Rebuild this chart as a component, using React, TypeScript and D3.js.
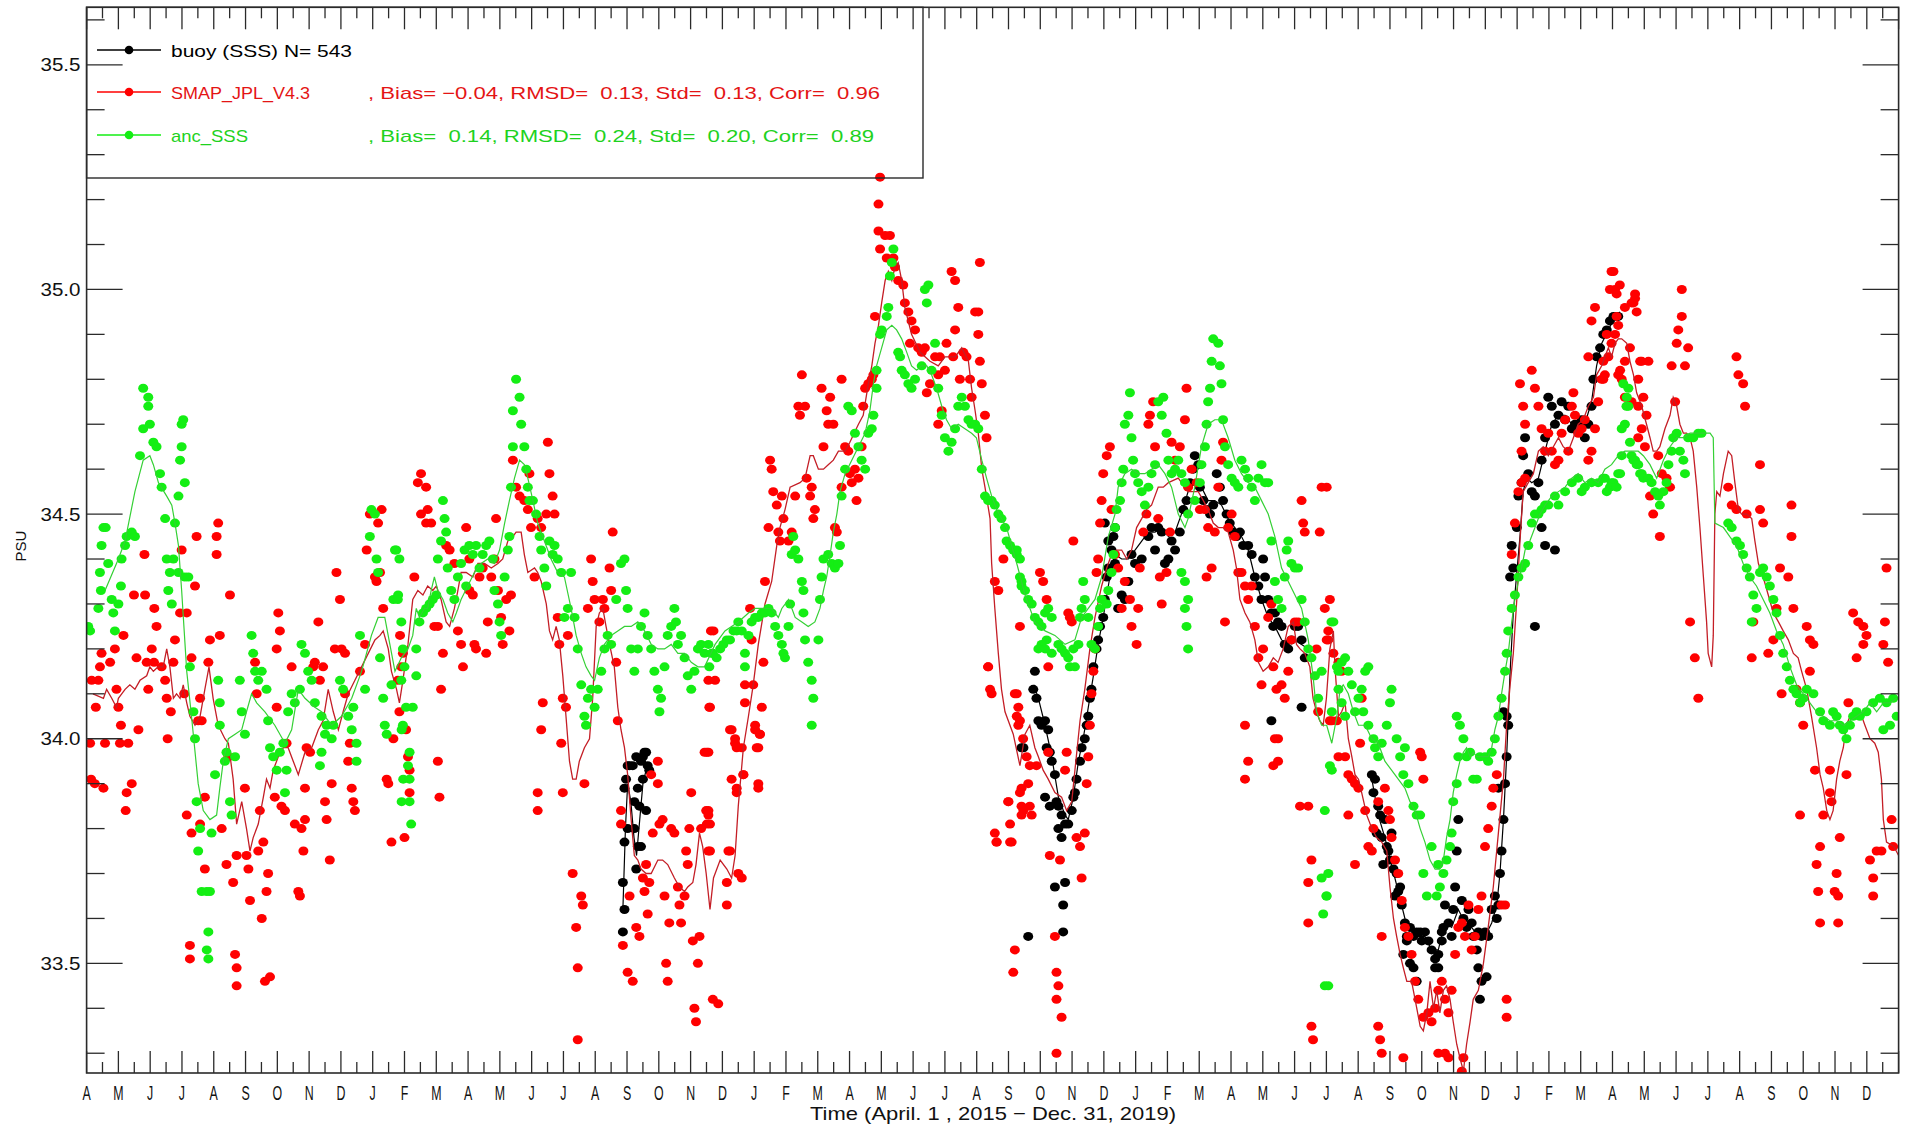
import React from "react";
import * as d3 from "d3";

type Pt = [number, number];

// time axis: months since April 1, 2015 (0) to Jan 1, 2020 (57)
const monthInitials = ["J", "F", "M", "A", "M", "J", "J", "A", "S", "O", "N", "D"];
const firstMonth = 3; // April
const monthCount = 57;
const monthLabels = d3.range(0, monthCount).map((i) => monthInitials[(i + firstMonth) % 12]);
const yMajorTicks = [33.5, 34.0, 34.5, 35.0, 35.5];
const yMinorTicks = d3.range(333, 357).map((v) => v / 10);
const xTitle = "Time (April. 1 , 2015 \u2212 Dec. 31, 2019)";
const yTitle = "PSU";
const legendBuoy = "buoy (SSS) N= 543";
const legendSmapName = "SMAP_JPL_V4.3";
const legendSmapStats = ", Bias= \u22120.04, RMSD=  0.13, Std=  0.13, Corr=  0.96";
const legendAncName = "anc_SSS";
const legendAncStats = ", Bias=  0.14, RMSD=  0.24, Std=  0.20, Corr=  0.89";

// SMAP smoothed line
const smapLine: Pt[] = [
[0.2,34.10],[0.53,34.09],[0.63,34.11],[0.79,34.09],[0.94,34.07],[1.0,34.09],[1.21,34.11],[1.36,34.12],[1.52,34.11],[1.68,34.13],[1.89,34.14],[1.99,34.16],[2.1,34.15],[2.25,34.16],[2.41,34.16],[2.52,34.20],[2.62,34.16],[2.73,34.09],[2.83,34.10],[2.94,34.09],[3.04,34.12],[3.15,34.08],[3.25,34.05],[3.41,34.03],[3.57,34.05],[3.72,34.11],[3.85,34.16],[3.98,34.09],[4.14,34.03],[4.35,34.0],[4.46,33.99],[4.61,33.91],[4.72,33.81],[4.88,33.86],[5.03,33.80],[5.14,33.75],[5.24,33.78],[5.40,33.81],[5.56,33.87],[5.66,33.91],[5.77,33.89],[5.87,33.93],[6.03,33.96],[6.19,33.98],[6.34,33.98],[6.50,33.95],[6.66,33.92],[6.87,33.97],[7.08,33.98],[7.29,34.02],[7.44,34.04],[7.60,34.11],[7.76,34.06],[7.92,34.02],[8.07,34.06],[8.23,34.10],[8.44,34.13],[8.65,34.16],[8.86,34.19],[9.07,34.22],[9.23,34.23],[9.33,34.24],[9.49,34.20],[9.59,34.15],[9.75,34.11],[9.84,34.08],[9.95,34.13],[10.11,34.21],[10.26,34.31],[10.42,34.33],[10.58,34.32],[10.73,34.34],[10.89,34.33],[11.0,34.34],[11.15,34.31],[11.31,34.26],[11.42,34.25],[11.57,34.29],[11.68,34.33],[11.78,34.37],[11.94,34.37],[12.15,34.36],[12.31,34.39],[12.52,34.39],[12.73,34.38],[12.94,34.39],[13.09,34.40],[13.25,34.44],[13.41,34.45],[13.51,34.46],[13.67,34.46],[13.77,34.41],[13.88,34.37],[14.09,34.38],[14.19,34.37],[14.30,34.35],[14.46,34.30],[14.56,34.24],[14.66,34.22],[14.77,34.25],[14.87,34.22],[14.98,34.14],[15.08,34.05],[15.19,33.95],[15.29,33.91],[15.40,33.91],[15.50,33.95],[15.66,33.98],[15.82,34.0],[15.92,34.09],[16.03,34.25],[16.13,34.28],[16.24,34.29],[16.34,34.25],[16.45,34.21],[16.60,34.16],[16.71,34.07],[16.81,34.02],[16.92,33.98],[17.02,33.92],[17.13,33.82],[17.23,33.74],[17.34,33.73],[17.44,33.71],[17.60,33.70],[17.76,33.70],[17.97,33.73],[18.12,33.73],[18.28,33.72],[18.49,33.69],[18.65,33.67],[18.81,33.66],[18.91,33.67],[19.07,33.68],[19.17,33.72],[19.28,33.79],[19.38,33.76],[19.49,33.70],[19.61,33.62],[19.72,33.69],[19.93,33.73],[20.14,33.71],[20.29,33.69],[20.40,33.74],[20.50,33.85],[20.66,33.98],[20.82,34.05],[20.97,34.12],[21.13,34.21],[21.34,34.30],[21.55,34.35],[21.71,34.43],[21.81,34.47],[21.97,34.51],[22.13,34.56],[22.44,34.57],[22.60,34.58],[22.76,34.63],[22.86,34.63],[23.02,34.60],[23.18,34.60],[23.33,34.61],[23.49,34.62],[23.65,34.64],[23.86,34.64],[24.01,34.66],[24.28,34.70],[24.43,34.72],[24.59,34.79],[24.70,34.83],[24.80,34.88],[24.91,34.92],[25.01,34.97],[25.12,35.02],[25.22,35.04],[25.33,35.02],[25.43,35.05],[25.53,35.06],[25.64,35.02],[25.74,34.96],[25.95,34.90],[26.22,34.86],[26.53,34.84],[26.79,34.83],[27.0,34.85],[27.32,34.85],[27.53,34.87],[27.74,34.84],[27.84,34.78],[27.95,34.73],[28.05,34.68],[28.16,34.60],[28.26,34.56],[28.42,34.49],[28.47,34.39],[28.57,34.29],[28.68,34.19],[28.78,34.11],[28.89,34.06],[29.15,34.01],[29.36,33.94],[29.52,34.01],[29.67,34.03],[29.83,33.98],[29.94,33.96],[30.09,33.93],[30.25,33.91],[30.46,33.88],[30.67,33.87],[30.83,33.84],[30.99,33.86],[31.09,33.93],[31.25,34.04],[31.40,34.11],[31.56,34.20],[31.72,34.27],[31.93,34.34],[32.09,34.38],[32.24,34.41],[32.40,34.42],[32.56,34.42],[32.72,34.40],[32.87,34.42],[33.03,34.47],[33.19,34.49],[33.34,34.51],[33.50,34.52],[33.71,34.56],[33.87,34.56],[34.03,34.57],[34.34,34.58],[34.65,34.55],[34.97,34.55],[35.13,34.53],[35.28,34.51],[35.44,34.48],[35.60,34.47],[35.75,34.47],[35.91,34.46],[36.07,34.42],[36.17,34.38],[36.28,34.31],[36.44,34.28],[36.59,34.26],[36.75,34.22],[36.86,34.17],[37.01,34.15],[37.17,34.16],[37.33,34.18],[37.48,34.17],[37.64,34.20],[37.80,34.25],[37.96,34.26],[38.06,34.21],[38.17,34.20],[38.32,34.19],[38.48,34.16],[38.58,34.09],[38.69,34.06],[38.79,34.04],[38.90,34.03],[39.0,34.09],[39.11,34.20],[39.22,34.24],[39.27,34.16],[39.38,34.05],[39.48,34.06],[39.59,34.08],[39.69,34.0],[39.80,33.96],[39.90,33.92],[40.01,33.91],[40.11,33.88],[40.27,33.83],[40.43,33.80],[40.58,33.78],[40.74,33.77],[40.90,33.75],[41.0,33.67],[41.11,33.60],[41.21,33.56],[41.32,33.52],[41.42,33.49],[41.53,33.46],[41.68,33.46],[41.79,33.42],[41.95,33.36],[42.05,33.35],[42.16,33.39],[42.26,33.46],[42.37,33.40],[42.47,33.44],[42.57,33.39],[42.68,33.44],[42.78,33.45],[42.89,33.42],[42.99,33.37],[43.10,33.32],[43.20,33.29],[43.31,33.26],[43.41,33.32],[43.52,33.37],[43.62,33.42],[43.78,33.44],[43.94,33.50],[44.09,33.58],[44.25,33.67],[44.41,33.79],[44.57,33.91],[44.67,34.03],[44.78,34.12],[44.88,34.19],[44.99,34.31],[45.09,34.44],[45.19,34.55],[45.35,34.57],[45.51,34.59],[45.67,34.64],[45.82,34.65],[45.98,34.63],[46.14,34.65],[46.30,34.67],[46.45,34.65],[46.61,34.64],[46.77,34.67],[46.92,34.70],[47.08,34.71],[47.24,34.74],[47.40,34.76],[47.50,34.81],[47.66,34.83],[47.76,34.85],[47.87,34.87],[47.97,34.85],[48.08,34.88],[48.18,34.89],[48.29,34.89],[48.45,34.88],[48.55,34.84],[48.66,34.81],[48.76,34.77],[48.92,34.74],[49.07,34.70],[49.18,34.67],[49.28,34.64],[49.39,34.64],[49.49,34.65],[49.65,34.69],[49.81,34.72],[49.91,34.76],[50.02,34.74],[50.12,34.70],[50.23,34.68],[50.33,34.68],[50.44,34.67],[50.54,34.64],[50.65,34.56],[50.75,34.47],[50.86,34.36],[50.96,34.26],[51.01,34.19],[51.12,34.16],[51.17,34.23],[51.22,34.50],[51.28,34.55],[51.38,34.54],[51.49,34.59],[51.64,34.64],[51.75,34.63],[51.85,34.57],[51.96,34.51],[52.06,34.50],[52.22,34.50],[52.38,34.49],[52.48,34.44],[52.59,34.39],[52.74,34.36],[52.90,34.32],[53.06,34.28],[53.22,34.26],[53.37,34.24],[53.53,34.22],[53.69,34.19],[53.84,34.18],[53.95,34.15],[54.11,34.11],[54.26,34.05],[54.42,33.98],[54.53,33.92],[54.63,33.89],[54.74,33.84],[54.84,33.82],[54.94,33.84],[55.05,33.91],[55.15,33.95],[55.26,33.98],[55.36,34.03],[55.47,34.05],[55.57,34.06],[55.73,34.06],[55.84,34.05],[55.94,34.03],[56.10,34.0],[56.25,33.99],[56.36,33.97],[56.46,33.91],[56.52,33.82],[56.62,33.77],[56.85,33.76],[57.0,33.74]
];

// anc_SSS smoothed line
const ancLine: Pt[] = [
[0.58,34.33],[1.0,34.40],[1.21,34.44],[1.52,34.55],[1.78,34.62],[1.99,34.63],[2.1,34.61],[2.26,34.57],[2.52,34.54],[2.68,34.52],[2.78,34.48],[2.89,34.43],[2.99,34.33],[3.15,34.15],[3.30,34.05],[3.51,33.90],[3.67,33.84],[3.88,33.82],[4.09,33.83],[4.19,33.89],[4.30,33.95],[4.46,34.0],[4.67,34.01],[4.88,34.02],[5.03,34.06],[5.19,34.10],[5.35,34.08],[5.61,34.06],[5.92,34.03],[6.24,33.99],[6.45,34.02],[6.66,34.11],[6.87,34.09],[7.18,34.07],[7.39,34.06],[7.71,34.03],[8.02,34.05],[8.34,34.09],[8.65,34.15],[8.96,34.23],[9.17,34.27],[9.38,34.27],[9.54,34.21],[9.70,34.15],[9.90,34.18],[10.11,34.20],[10.26,34.23],[10.37,34.29],[10.47,34.27],[10.63,34.29],[10.73,34.29],[10.84,34.33],[10.94,34.36],[11.05,34.33],[11.21,34.31],[11.36,34.28],[11.52,34.26],[11.63,34.28],[11.78,34.31],[11.99,34.34],[12.2,34.37],[12.41,34.39],[12.62,34.40],[12.83,34.39],[12.99,34.42],[13.15,34.48],[13.30,34.53],[13.46,34.58],[13.62,34.62],[13.77,34.61],[13.88,34.58],[14.04,34.53],[14.19,34.48],[14.40,34.44],[14.61,34.40],[14.82,34.37],[15.03,34.36],[15.24,34.29],[15.40,34.23],[15.56,34.19],[15.71,34.16],[15.87,34.14],[15.98,34.13],[16.13,34.18],[16.29,34.21],[16.50,34.23],[16.71,34.24],[16.92,34.25],[17.13,34.25],[17.34,34.26],[17.55,34.24],[17.76,34.21],[17.97,34.20],[18.18,34.20],[18.39,34.21],[18.60,34.19],[18.81,34.19],[19.02,34.17],[19.23,34.16],[19.44,34.16],[19.77,34.21],[20.08,34.24],[20.50,34.26],[20.82,34.28],[21.03,34.29],[21.24,34.29],[21.55,34.29],[21.76,34.27],[21.87,34.29],[22.08,34.31],[22.29,34.27],[22.50,34.26],[22.70,34.25],[22.91,34.26],[23.07,34.29],[23.18,34.33],[23.28,34.36],[23.39,34.41],[23.49,34.46],[23.60,34.50],[23.70,34.55],[23.86,34.59],[24.07,34.62],[24.28,34.65],[24.49,34.68],[24.64,34.73],[24.75,34.79],[24.85,34.83],[25.01,34.87],[25.17,34.91],[25.33,34.92],[25.48,34.91],[25.64,34.89],[25.80,34.86],[25.95,34.83],[26.11,34.82],[26.27,34.83],[26.43,34.83],[26.58,34.81],[26.74,34.78],[26.90,34.74],[27.05,34.71],[27.21,34.69],[27.42,34.70],[27.63,34.69],[27.84,34.68],[27.99,34.67],[28.16,34.62],[28.31,34.58],[28.47,34.54],[28.63,34.51],[28.78,34.49],[28.94,34.47],[29.10,34.43],[29.26,34.39],[29.41,34.35],[29.52,34.32],[29.83,34.26],[30.15,34.24],[30.46,34.23],[30.78,34.21],[31.09,34.22],[31.30,34.27],[31.51,34.29],[31.72,34.31],[31.93,34.36],[32.14,34.45],[32.35,34.50],[32.45,34.56],[32.66,34.59],[32.87,34.60],[33.08,34.59],[33.29,34.59],[33.50,34.60],[33.71,34.61],[33.92,34.59],[34.13,34.56],[34.34,34.50],[34.55,34.47],[34.65,34.49],[34.86,34.56],[35.07,34.65],[35.28,34.70],[35.49,34.71],[35.70,34.71],[35.91,34.67],[36.12,34.62],[36.33,34.59],[36.54,34.57],[36.75,34.56],[36.96,34.53],[37.17,34.50],[37.38,34.45],[37.59,34.38],[37.80,34.35],[38.01,34.32],[38.22,34.29],[38.43,34.22],[38.58,34.14],[38.69,34.06],[38.85,34.03],[39.01,34.03],[39.17,33.99],[39.33,34.05],[39.43,34.11],[39.53,34.12],[39.69,34.10],[39.85,34.06],[40.01,34.03],[40.22,34.03],[40.43,34.0],[40.63,33.99],[40.84,33.95],[41.05,33.93],[41.26,33.91],[41.47,33.89],[41.63,33.86],[41.79,33.84],[41.95,33.80],[42.10,33.77],[42.26,33.73],[42.42,33.71],[42.57,33.71],[42.68,33.73],[42.78,33.78],[42.89,33.82],[42.99,33.88],[43.10,33.92],[43.20,33.95],[43.31,33.97],[43.41,33.98],[43.52,33.96],[43.62,33.97],[43.73,33.96],[43.94,33.96],[44.09,33.96],[44.20,33.98],[44.30,34.02],[44.41,34.05],[44.51,34.10],[44.62,34.15],[44.72,34.19],[44.83,34.26],[44.93,34.31],[45.04,34.35],[45.14,34.38],[45.25,34.42],[45.40,34.44],[45.56,34.47],[45.72,34.50],[45.88,34.52],[46.09,34.54],[46.30,34.55],[46.51,34.56],[46.72,34.58],[46.92,34.59],[47.13,34.57],[47.34,34.58],[47.55,34.57],[47.76,34.60],[47.97,34.61],[48.18,34.63],[48.39,34.64],[48.60,34.64],[48.81,34.64],[48.97,34.63],[49.18,34.61],[49.39,34.58],[49.60,34.62],[49.81,34.65],[50.02,34.67],[50.23,34.67],[50.44,34.68],[50.65,34.68],[50.86,34.68],[51.07,34.68],[51.17,34.67],[51.22,34.48],[51.49,34.47],[51.69,34.45],[51.90,34.43],[52.11,34.39],[52.32,34.36],[52.53,34.34],[52.74,34.31],[52.95,34.28],[53.16,34.24],[53.37,34.21],[53.58,34.16],[53.79,34.12],[54.0,34.10],[54.21,34.08],[54.42,34.06],[54.63,34.05],[54.84,34.04],[55.05,34.04],[55.26,34.03],[55.47,34.04],[55.68,34.05],[55.89,34.06],[56.10,34.08],[56.31,34.06],[56.52,34.08],[56.73,34.08],[56.94,34.09]
];

// buoy smoothed line (three deployments)
const buoyLine: Pt[] = [
[16.87,33.62],[16.95,33.80],[17.02,33.90],[17.12,33.86],[17.22,33.78],[17.30,33.74],[17.40,33.82],[17.50,33.90],[17.60,33.93],[17.70,33.93],
[29.80,34.12],[29.94,34.09],[30.15,34.03],[30.36,33.96],[30.57,33.87],[30.78,33.83],[30.88,33.82],[31.04,33.87],[31.20,33.95],[31.35,34.0],[31.51,34.07],[31.67,34.14],[31.82,34.21],[31.98,34.27],[32.14,34.34],[32.24,34.38],[32.35,34.41],[32.56,34.40],[32.77,34.40],[32.98,34.42],[33.19,34.44],[33.40,34.46],[33.61,34.46],[33.82,34.47],[34.03,34.45],[34.24,34.46],[34.44,34.50],[34.65,34.55],[34.86,34.57],[35.07,34.56],[35.28,34.53],[35.49,34.53],[35.70,34.52],[35.91,34.49],[36.12,34.47],[36.33,34.45],[36.54,34.42],[36.75,34.36],[36.96,34.31],[37.17,34.27],[37.38,34.25],[37.59,34.22],[37.80,34.21],[38.01,34.22],[38.22,34.21],[38.43,34.20],
[40.43,33.91],[40.63,33.83],[40.84,33.78],[41.05,33.72],[41.26,33.66],[41.47,33.60],[41.68,33.57],[41.89,33.56],[42.10,33.56],[42.31,33.53],[42.52,33.53],[42.73,33.59],[42.94,33.58],[43.15,33.62],[43.36,33.59],[43.57,33.58],[43.78,33.56],[43.99,33.56],[44.20,33.59],[44.36,33.63],[44.46,33.70],[44.57,33.82],[44.67,33.96],[44.78,34.15],[44.88,34.28],[44.99,34.37],[45.09,34.45],[45.19,34.55],[45.30,34.58],[45.46,34.57],[45.67,34.58],[45.88,34.64],[46.09,34.70],[46.30,34.72],[46.51,34.72],[46.72,34.70],[46.92,34.70],[47.13,34.70],[47.34,34.75],[47.50,34.83],[47.66,34.88],[47.87,34.91],[48.08,34.94],[48.23,34.95]
];

// buoy (SSS) daily points
const buoyDots: Pt[] = [
[16.92,33.89],[16.97,33.91],[17.02,33.94],[17.08,33.94],[17.18,33.94],[17.29,33.96],[17.44,33.95],[17.50,33.96],[17.55,33.97],[17.60,33.97],[17.65,33.94],[17.70,33.93],[17.50,33.91],[17.34,33.89],[17.23,33.86],[17.39,33.85],[17.60,33.84],[17.02,33.80],[17.23,33.80],[17.34,33.76],[17.44,33.76],[16.92,33.77],[17.29,33.71],[16.87,33.68],[16.92,33.62],[16.87,33.57],
[29.41,33.98],[29.47,33.98],[29.83,34.15],[29.78,34.11],[29.88,34.09],[29.94,34.04],[30.04,34.03],[30.15,34.04],[30.25,34.02],[30.20,33.98],[30.30,33.97],[30.36,33.95],[30.46,33.92],[30.51,33.86],[30.57,33.85],[30.67,33.83],[30.78,33.81],[30.88,33.81],[30.99,33.84],[31.04,33.87],[31.09,33.88],[31.14,33.91],[31.25,33.95],[31.30,33.98],[31.40,34.0],[31.46,34.03],[31.51,34.05],[31.56,34.09],[31.61,34.11],[31.67,34.16],[31.77,34.20],[31.82,34.22],[31.88,34.25],[31.98,34.27],[32.03,34.31],[32.09,34.36],[32.14,34.38],[32.24,34.42],[32.30,34.45],[32.35,34.47],[29.62,33.56],[30.46,33.67],[30.72,33.63],[30.78,33.68],[30.72,33.57],[30.67,33.78],[30.57,33.80],[30.30,33.85],[30.15,33.87],[32.03,34.48],[32.14,34.44],[32.35,34.39],[32.45,34.29],[32.56,34.32],[32.66,34.31],[32.77,34.35],[32.87,34.41],[32.98,34.39],[33.19,34.40],[33.40,34.45],[33.50,34.47],[33.61,34.42],[33.71,34.47],[33.82,34.46],[33.92,34.39],[34.03,34.40],[34.13,34.44],[34.24,34.42],[34.39,34.46],[34.50,34.51],[34.60,34.53],[34.71,34.57],[34.81,34.60],[34.86,34.63],[34.97,34.61],[35.02,34.56],[35.13,34.53],[35.23,34.51],[35.34,34.50],[35.44,34.52],[35.55,34.59],[35.65,34.56],[35.75,34.53],[35.86,34.50],[35.96,34.48],[36.07,34.46],[36.17,34.45],[36.28,34.46],[36.38,34.43],[36.54,34.43],[36.65,34.41],[36.75,34.36],[36.86,34.34],[36.96,34.31],[37.01,34.40],[37.07,34.36],[37.17,34.31],[37.27,34.28],[37.33,34.25],[37.38,34.28],[37.48,34.26],[37.59,34.25],[37.69,34.21],[37.80,34.20],[37.90,34.22],[38.01,34.25],[38.11,34.25],[38.22,34.22],[38.32,34.18],[38.22,34.07],[37.27,34.04],
[40.43,33.92],[40.53,33.91],[40.48,33.88],[40.63,33.85],[40.69,33.83],[40.58,33.79],[40.74,33.78],[40.84,33.82],[40.90,33.76],[41.0,33.73],[41.05,33.79],[41.11,33.71],[41.21,33.70],[41.26,33.66],[41.37,33.63],[41.47,33.59],[41.53,33.56],[41.63,33.58],[41.74,33.56],[41.84,33.57],[41.95,33.57],[42.0,33.55],[42.10,33.57],[42.21,33.55],[42.31,33.53],[42.42,33.51],[42.52,33.52],[42.63,33.55],[42.68,33.58],[42.73,33.63],[42.84,33.59],[42.94,33.56],[42.99,33.62],[43.05,33.67],[43.15,33.82],[43.10,33.75],[43.26,33.64],[43.31,33.60],[43.41,33.58],[43.47,33.62],[43.57,33.59],[43.62,33.56],[43.73,33.53],[43.78,33.57],[43.88,33.56],[43.99,33.57],[44.09,33.56],[44.20,33.62],[44.30,33.65],[44.36,33.60],[44.41,33.63],[44.46,33.70],[44.51,33.75],[44.57,33.82],[44.62,33.90],[44.67,33.96],[44.72,34.03],[44.67,34.05],[44.57,34.06],[44.41,33.89],[41.63,33.50],[41.74,33.49],[41.84,33.46],[41.42,33.52],[41.53,33.55],[42.42,33.49],[42.52,33.49],[42.63,33.57],[43.78,33.49],[43.83,33.42],[43.88,33.46],[44.04,33.47],[41.32,33.67],[41.16,33.65],[40.95,33.75],[40.79,33.72],
[44.78,34.36],[44.88,34.38],[44.83,34.43],[44.99,34.47],[45.04,34.54],[45.14,34.57],[45.19,34.63],[45.25,34.67],[45.35,34.59],[45.46,34.55],[45.56,34.54],[45.67,34.57],[45.77,34.62],[45.88,34.67],[45.98,34.76],[46.09,34.74],[46.19,34.70],[46.30,34.72],[46.40,34.75],[46.51,34.71],[46.61,34.74],[46.72,34.69],[46.82,34.70],[46.92,34.69],[47.03,34.71],[47.13,34.67],[47.24,34.70],[47.34,34.74],[47.40,34.80],[47.50,34.85],[47.61,34.87],[47.71,34.90],[47.82,34.91],[47.92,34.93],[48.03,34.94],[48.13,34.94],[48.18,34.94],[46.19,34.42],[45.56,34.25],[45.77,34.47],[45.88,34.43]
];

// SMAP_JPL_V4.3 points
const smapDots: Pt[] = [
[0.11,33.99],[0.14,33.91],[0.26,33.90],[0.53,33.89],[0.16,34.13],[0.42,34.16],[0.37,34.13],[0.47,34.19],[0.74,34.17],[0.29,34.07],[0.58,33.99],[0.94,34.11],[1.0,34.07],[1.05,33.99],[1.08,34.03],[1.16,34.23],[0.89,34.20],[1.26,33.88],[1.42,33.90],[1.23,33.84],[1.31,33.99],[1.49,34.32],[1.57,34.18],[1.63,34.02],[1.84,34.32],[1.82,34.41],[1.89,34.17],[1.94,34.11],[2.05,34.20],[2.13,34.29],[2.20,34.25],[2.12,34.17],[2.36,34.16],[2.47,34.13],[2.52,34.09],[2.55,34.0],[2.65,34.06],[2.78,34.22],[2.73,34.17],[2.94,34.28],[2.99,34.42],[3.07,34.10],[3.15,34.28],[3.30,34.18],[3.46,34.45],[3.41,34.34],[3.57,34.09],[3.62,34.04],[3.83,34.17],[3.88,34.22],[4.09,34.41],[4.14,34.48],[4.09,34.45],[4.19,34.23],[3.15,33.83],[3.30,33.79],[3.25,33.54],[3.25,33.51],[3.57,33.81],[3.72,33.87],[3.51,34.04],[3.72,33.71],[4.25,33.80],[4.40,33.72],[4.46,33.96],[4.61,33.68],[4.72,33.74],[4.67,33.52],[4.72,33.49],[4.72,33.45],[4.51,34.32],[4.98,33.89],[5.03,33.74],[5.09,33.71],[5.14,33.64],[5.35,34.10],[5.30,34.17],[5.40,33.75],[5.45,33.84],[5.51,33.60],[5.56,33.77],[5.61,33.46],[5.77,33.47],[5.66,33.66],[5.71,33.70],[5.92,33.87],[5.98,34.07],[6.03,34.28],[6.08,34.24],[5.98,34.20],[6.13,33.85],[6.24,33.84],[6.29,33.99],[6.45,34.16],[6.55,33.81],[6.66,33.66],[6.71,33.65],[6.76,33.80],[6.82,33.75],[6.87,33.89],[6.87,33.82],[6.92,33.98],[7.03,33.97],[7.13,34.16],[7.18,34.17],[7.29,34.26],[7.34,34.13],[7.44,34.16],[7.50,33.86],[7.55,33.82],[7.65,33.73],[7.71,33.90],[7.81,34.20],[7.86,34.37],[7.97,34.31],[8.02,34.20],[8.13,34.19],[8.13,34.10],[8.28,33.99],[8.34,33.89],[8.39,33.86],[8.44,33.84],[8.23,33.95],[8.60,34.15],[8.76,34.21],[8.81,34.42],[8.91,34.50],[9.07,34.36],[9.12,34.35],[9.17,34.48],[9.28,34.51],[9.23,34.37],[9.33,34.29],[9.44,33.91],[9.49,33.90],[9.59,33.77],[9.65,34.0],[9.86,34.23],
[9.79,34.13],[9.84,34.06],[9.95,34.19],[9.90,34.16],[10.05,34.02],[10.11,33.96],[10.16,33.93],[10.16,33.88],[10.0,33.78],[10.31,34.36],[10.52,34.59],[10.42,34.57],[10.68,34.56],[10.73,34.51],[10.52,34.50],[10.68,34.48],[10.84,34.48],[10.94,34.25],[11.05,34.25],[11.21,34.19],[11.15,34.11],[11.05,33.95],[11.10,33.87],[11.31,34.43],[11.42,34.42],[11.57,34.39],[11.68,34.24],[11.78,34.21],[11.84,34.16],[11.94,34.47],[12.04,34.40],[12.04,34.33],[12.15,34.32],[12.20,34.21],[12.25,34.20],[12.36,34.36],[12.46,34.38],[12.57,34.19],[12.62,34.26],[12.73,34.36],[12.83,34.40],[12.88,34.49],[12.94,34.33],[13.04,34.27],[13.09,34.21],[13.20,34.31],[13.30,34.24],[13.35,34.32],[13.41,34.62],[13.51,34.56],[13.62,34.54],[13.77,34.53],[13.88,34.51],[13.93,34.59],[13.98,34.47],[14.19,34.49],[14.30,34.47],[14.09,34.36],[14.35,34.08],[14.30,34.02],[14.19,33.88],[14.19,33.84],[14.46,34.50],[14.51,34.66],[14.56,34.59],[14.66,34.54],[14.72,34.50],[14.82,34.27],[14.87,34.21],[14.98,34.09],[15.08,34.07],[14.93,33.99],[14.98,33.88],[15.14,34.23],[15.29,33.70],[15.40,33.58],[15.45,33.49],[15.45,33.33],[15.56,33.65],[15.61,33.63],[15.66,33.90],[15.77,34.29],[15.87,34.40],[15.92,34.35],[15.98,34.31],[16.13,34.26],[16.24,34.31],[16.29,34.29],[16.45,34.38],[16.50,34.33],[16.55,34.46],[16.66,34.17],[16.71,34.04],[16.81,33.84],[16.81,33.81],[16.87,33.54],[17.02,33.48],[17.08,33.65],[17.18,33.46],[17.29,33.58],[17.39,33.56],[17.50,33.69],[17.55,33.66],[17.60,33.72],[17.65,33.61],[17.70,33.68],[17.76,33.92],[17.81,33.79],[17.97,33.90],[17.97,33.95],[18.02,33.81],[18.12,33.82],[18.18,33.65],[18.23,33.50],[18.28,33.46],[18.33,33.59],[18.39,33.80],[18.49,33.79],[18.60,33.67],[18.65,33.63],[18.70,33.59],[18.81,33.65],[18.86,33.75],[18.91,33.72],[18.96,33.80],[19.02,33.88],[19.07,33.55],[19.12,33.40],[19.17,33.37],[19.23,33.50],[19.28,33.56],[19.33,33.80],[19.44,33.97],[19.49,33.84],[19.59,34.07],[19.64,34.24],[19.70,33.42],
[19.72,34.24],[19.56,34.13],[19.61,34.07],[19.77,34.13],[19.56,33.97],[19.56,33.84],[19.61,33.81],[19.56,33.75],[20.19,33.75],[20.24,34.02],[20.40,33.99],[20.45,33.89],[20.61,33.98],[20.66,33.92],[20.71,34.08],[20.71,34.12],[20.87,34.29],[20.92,34.22],[20.97,34.12],[21.03,34.03],[21.08,33.98],[21.13,33.90],[21.18,34.01],[21.29,34.17],[21.24,34.07],[21.34,34.35],[21.45,34.47],[21.50,34.62],[21.55,34.60],[21.60,34.55],[21.71,34.52],[21.76,34.46],[21.81,34.44],[21.87,34.54],[21.92,34.49],[22.08,34.44],[22.18,34.46],[22.29,34.54],[22.39,34.74],[22.44,34.72],[22.50,34.81],[22.60,34.74],[22.65,34.58],[22.76,34.54],[22.81,34.56],[22.86,34.49],[22.91,34.51],[23.12,34.78],[23.18,34.65],[23.28,34.73],[23.33,34.70],[23.39,34.76],[23.49,34.70],[23.54,34.47],[23.60,34.46],[23.75,34.80],[23.75,34.56],[23.86,34.65],[23.96,34.64],[24.01,34.59],[24.07,34.57],[24.17,34.60],[24.22,34.53],[24.28,34.58],[24.38,34.65],[24.43,34.74],[24.49,34.78],[24.59,34.79],[24.70,34.80],[24.75,34.81],[24.80,34.94],[24.91,35.13],[24.91,35.19],[24.96,35.25],[24.96,35.09],[25.12,35.12],[25.17,35.07],[25.27,35.12],[25.38,35.07],[25.43,35.05],[25.53,35.02],[25.69,35.01],[25.74,34.97],[25.85,34.95],[25.95,34.93],[25.90,34.88],[26.06,34.91],[26.16,34.87],[26.27,34.86],[26.37,34.87],[26.43,34.77],[26.53,34.79],[26.69,34.85],[26.79,34.81],[26.84,34.85],[26.90,34.73],[26.79,34.70],[27.0,34.82],[27.05,34.88],[27.21,35.04],[27.32,35.02],[27.42,34.96],[27.26,34.85],[27.32,34.91],[27.47,34.80],[27.58,34.86],[27.68,34.85],[27.79,34.80],[27.84,34.76],[27.95,34.95],[28.05,34.95],[28.10,35.06],[28.05,34.90],[28.10,34.84],[28.16,34.79],[28.26,34.72],[28.31,34.67],[28.36,34.16],[28.42,34.11],[28.57,34.35],[28.68,34.33],[28.84,34.40],[29.20,34.10],[29.26,34.05],[29.31,34.03],[29.36,34.25],[29.36,33.88],[29.41,33.83],[28.99,33.86],[29.05,33.81],[28.57,33.79],[28.62,33.77],[29.05,33.77],
[20.29,34.02],[20.40,34.0],[20.45,33.98],[21.03,34.02],[21.18,34.01],[21.13,33.98],[19.51,33.97],[20.29,33.91],[20.66,33.92],[20.45,33.88],[21.13,33.89],[19.56,33.83],[19.51,33.81],[19.61,33.75],[20.24,33.75],[20.14,33.68],[20.50,33.70],[20.61,33.69],[20.14,33.63],[19.87,33.41],[28.36,34.16],[28.47,34.10],[29.26,34.10],[29.31,34.07],[29.0,33.86],[28.63,33.77],[29.10,33.77],[29.20,33.53],[29.15,33.48],[29.41,33.89],[29.47,33.84],
[29.36,34.04],[29.46,34.0],[29.57,33.96],[29.67,33.94],[29.62,33.90],[29.41,33.85],[29.67,33.85],[29.73,33.83],[29.88,33.94],[29.99,34.37],[30.09,34.35],[30.20,34.31],[30.25,34.16],[30.25,33.97],[30.30,33.74],[30.46,33.56],[30.51,33.48],[30.57,33.45],[30.51,33.42],[30.67,33.38],[30.51,33.30],[30.62,33.73],[30.78,33.93],[30.83,33.97],[30.88,34.28],[30.93,34.27],[30.99,34.26],[31.04,34.44],[31.14,33.78],[31.25,33.76],[31.30,33.69],[31.40,33.79],[31.46,33.90],[31.51,33.96],[31.56,34.03],[31.61,34.10],[31.67,34.15],[31.72,34.20],[31.77,34.37],[31.82,34.40],[31.88,34.48],[31.93,34.53],[31.98,34.59],[32.09,34.63],[32.19,34.65],[32.24,34.51],[32.35,34.41],[32.45,34.38],[32.56,34.29],[32.66,34.35],[32.82,34.31],[32.87,34.25],[33.03,34.21],[33.08,34.29],[33.13,34.38],[33.24,34.46],[33.34,34.50],[33.40,34.70],[33.45,34.72],[33.55,34.75],[33.61,34.65],[33.71,34.49],[33.76,34.36],[33.82,34.30],[33.97,34.37],[34.08,34.46],[34.13,34.66],[34.24,34.62],[34.39,34.65],[34.55,34.71],[34.60,34.78],[34.65,34.56],[34.76,34.60],[34.92,34.57],[35.02,34.51],[35.18,34.51],[35.28,34.47],[35.23,34.36],[35.39,34.38],[35.49,34.46],[35.60,34.56],[35.70,34.62],[35.75,34.66],[35.81,34.26],[35.91,34.47],[36.02,34.50],[36.12,34.45],[36.23,34.37],[36.33,34.37],[36.44,34.34],[36.54,34.31],[36.65,34.34],[36.75,34.25],[36.86,34.18],[36.96,34.12],[37.01,34.20],[37.17,34.27],[37.27,34.30],[37.33,34.16],[37.43,34.11],[37.48,34.0],[37.59,34.12],[37.69,34.09],[37.80,34.15],[37.90,34.22],[38.01,34.26],[38.11,34.26],[38.22,34.53],[38.27,34.48],[38.32,34.46],[38.43,33.85],[38.53,33.73],[38.43,33.68],[38.43,33.59],[38.53,33.36],[38.58,33.33],[38.69,34.20],[38.74,34.06],[38.79,34.46],[38.85,34.56],[38.95,34.29],[39.06,34.22],[39.11,34.04],[36.44,34.03],[36.54,33.95],[36.44,33.91],[37.38,34.0],[37.33,33.94],[37.48,33.95],[38.17,33.85],
[39.01,34.56],[39.11,34.31],[39.06,34.24],[39.01,34.22],[39.22,34.19],[39.38,34.17],[39.48,34.15],[39.17,34.04],[39.33,34.04],[39.38,33.96],[39.59,33.96],[39.69,33.92],[39.80,33.91],[39.90,33.90],[40.01,33.89],[40.06,33.99],[40.11,34.09],[40.22,33.84],[40.32,33.76],[40.43,33.75],[39.90,33.72],[39.69,33.83],[40.48,33.80],[40.63,33.86],[40.84,33.89],[40.95,33.84],[41.0,33.82],[41.05,33.78],[41.16,33.73],[41.26,33.70],[41.37,33.64],[41.47,33.58],[41.58,33.56],[41.68,33.52],[41.79,33.46],[41.89,33.42],[42.05,33.38],[42.21,33.39],[42.31,33.37],[42.42,33.40],[42.52,33.44],[42.63,33.46],[42.73,33.42],[42.84,33.39],[42.94,33.44],[43.05,33.52],[43.15,33.58],[43.26,33.59],[43.36,33.56],[43.47,33.63],[43.57,33.53],[43.67,33.56],[43.78,33.62],[43.88,33.65],[43.99,33.76],[44.09,33.80],[44.20,33.85],[44.25,33.89],[44.36,33.92],[44.51,33.63],[44.62,33.63],[44.67,33.42],[44.67,33.38],[40.74,33.56],[40.63,33.36],[40.69,33.33],[40.74,33.30],[41.42,33.29],[42.52,33.30],[42.73,33.30],[42.84,33.29],[43.31,33.29],[43.26,33.26],[41.95,33.97],[42.0,33.96],[42.05,33.91],
[44.83,34.41],[44.93,34.48],[45.04,34.55],[45.14,34.57],[45.25,34.58],[45.14,34.64],[45.25,34.70],[45.19,34.74],[45.09,34.79],[45.46,34.82],[45.56,34.78],[45.67,34.74],[45.77,34.69],[45.88,34.64],[45.98,34.68],[46.09,34.64],[46.19,34.61],[46.30,34.62],[46.40,34.68],[46.51,34.71],[46.61,34.64],[46.72,34.74],[46.77,34.77],[46.82,34.72],[46.92,34.68],[47.03,34.69],[47.13,34.71],[47.24,34.62],[47.34,34.64],[47.45,34.69],[47.55,34.75],[47.66,34.80],[47.24,34.85],[47.34,34.93],[47.45,34.96],[47.76,34.81],[47.87,34.85],[47.97,34.88],[48.08,34.90],[47.97,35.04],[48.08,35.0],[48.13,34.99],[48.23,35.01],[48.39,34.96],[48.60,34.97],[48.71,34.98],[48.76,34.95],[48.81,34.80],[48.92,34.84],[48.18,34.81],[48.29,34.80],[48.39,34.76],[48.60,34.75],[48.81,34.74],[48.92,34.69],[49.02,34.65],
[48.03,35.04],[47.92,35.0],[48.71,34.99],[48.66,34.97],[48.13,34.94],[48.18,34.92],[47.82,34.90],[47.71,34.84],[47.71,34.80],[48.55,34.87],[48.39,34.84],[48.24,34.82],[48.87,34.84],[49.13,34.84],[48.97,34.76],[49.07,34.72],[48.81,34.67],[49.18,34.54],[49.28,34.50],[49.49,34.45],[49.44,34.63],[49.55,34.59],[49.70,34.58],[49.81,34.56],[50.18,35.0],[50.18,34.94],[50.07,34.91],[50.02,34.88],[50.38,34.87],[50.28,34.83],[49.86,34.83],[49.97,34.75],[50.44,34.26],[50.59,34.18],[50.70,34.09],[51.90,34.85],[51.96,34.81],[52.11,34.79],[52.17,34.74],[52.64,34.61],[51.64,34.56],[51.75,34.52],[51.90,34.51],[52.22,34.50],[52.64,34.51],[52.74,34.48],[53.27,34.38],[53.53,34.36],[53.63,34.52],[53.63,34.45],[53.16,34.29],[53.06,34.22],[52.90,34.19],[52.43,34.26],[52.38,34.18],[53.32,34.10],[53.69,34.29],[53.79,34.11],[53.90,34.08],[54.0,34.03],[54.11,34.25],[54.21,34.22],[54.32,34.21],[54.21,34.15],[54.37,33.93],[54.42,33.72],[54.53,33.76],[54.47,33.66],[54.53,33.59],[54.63,33.83],[54.84,33.93],[54.84,33.88],[54.89,33.86],[54.99,33.66],[55.10,33.65],[55.05,33.70],[55.10,33.59],[55.15,33.78],[53.90,33.83],[55.36,33.92],[55.42,34.08],[55.57,34.28],[55.73,34.26],[55.89,34.25],[55.99,34.23],[55.89,34.21],[55.68,34.18],[56.10,33.73],[56.20,33.69],[56.20,33.65],[56.31,33.75],[56.46,33.75],[56.52,34.21],[56.57,34.26],[56.62,34.38],[56.67,34.17],[56.78,33.82],[56.83,33.76]
];

// anc_SSS points
const ancDots: Pt[] = [
[0.11,34.24],[0.05,34.25],[0.42,34.37],[0.53,34.47],[0.60,34.47],[0.47,34.43],[0.68,34.39],[0.45,34.33],[0.79,34.31],[0.84,34.28],[0.89,34.24],[0.37,34.29],[1.0,34.30],[1.08,34.34],[1.10,34.40],[1.21,34.43],[1.26,34.45],[1.42,34.46],[1.52,34.45],[1.68,34.63],[1.78,34.78],[1.94,34.76],[1.94,34.74],[1.99,34.70],[1.78,34.69],[2.10,34.66],[2.20,34.65],[2.31,34.59],[2.36,34.56],[2.47,34.49],[2.52,34.40],[2.62,34.37],[2.57,34.33],[2.73,34.40],[2.68,34.30],[2.78,34.48],[2.89,34.54],[2.94,34.62],[2.99,34.70],[3.04,34.71],[2.99,34.65],[3.09,34.57],[2.89,34.37],[3.09,34.36],[3.20,34.36],[3.25,34.16],[3.36,34.06],[3.41,34.0],[3.46,33.86],[3.57,33.80],[3.51,33.75],[3.62,33.66],[3.78,33.66],[3.88,33.66],[3.83,33.57],[3.78,33.53],[3.83,33.51],[3.93,33.79],[4.04,33.92],[4.14,34.13],[4.19,34.08],[4.19,34.03],[4.35,33.95],[4.40,33.97],[4.51,33.86],[4.56,33.83],[4.67,33.96],[4.82,34.13],[4.88,34.06],[4.98,34.01],[5.19,34.23],[5.24,34.19],[5.30,34.15],[5.40,34.13],[5.51,34.15],[5.66,34.11],[5.71,34.04],[5.77,33.98],[5.87,33.96],[5.98,33.93],[6.08,33.97],[6.19,33.99],[6.24,33.88],[6.29,33.93],[6.34,34.06],[6.45,34.10],[6.55,34.08],[6.71,34.11],[6.76,34.21],[6.87,34.19],[6.97,34.15],[7.08,34.13],[7.18,34.08],[7.39,34.05],[7.50,34.01],[7.39,33.97],[7.34,33.94],[7.55,34.03],[7.71,34.0],[7.76,34.03],[7.97,34.13],[8.07,34.11],[8.23,34.05],[8.34,34.02],[8.39,34.07],[8.49,33.99],[8.49,33.95],[8.60,34.23],[8.76,34.11],[8.91,34.45],[8.96,34.51],[9.07,34.50],[9.12,34.40],[9.17,34.37],[9.23,34.18],[9.33,34.09],[9.38,34.03],[9.44,34.01],[9.59,34.12],[9.65,34.31],[9.70,34.42],[9.80,34.32],[9.91,34.02],[9.96,33.91],[9.91,33.86],
[9.74,34.42],[9.84,34.40],[9.79,34.31],[9.90,34.26],[9.95,34.20],[9.90,34.13],[10.0,34.16],[10.05,34.07],[9.95,34.03],[10.16,33.97],[10.11,33.94],[10.16,33.91],[10.16,33.86],[10.21,33.81],[10.26,34.07],[10.37,34.14],[10.37,34.20],[10.47,34.26],[10.58,34.28],[10.68,34.29],[10.79,34.30],[10.89,34.31],[11.0,34.32],[11.05,34.40],[11.15,34.44],[11.21,34.53],[11.26,34.49],[11.31,34.46],[11.36,34.38],[11.47,34.33],[11.57,34.31],[11.68,34.36],[11.78,34.39],[11.89,34.42],[11.94,34.34],[12.04,34.43],[12.15,34.41],[12.25,34.43],[12.36,34.38],[12.46,34.41],[12.57,34.43],[12.67,34.44],[12.78,34.40],[12.83,34.33],[12.94,34.30],[12.99,34.26],[13.04,34.23],[13.15,34.36],[13.25,34.42],[13.30,34.45],[13.35,34.56],[13.41,34.73],[13.51,34.80],[13.62,34.76],[13.41,34.65],[13.67,34.70],[13.77,34.65],[13.83,34.60],[13.88,34.56],[13.93,34.53],[14.04,34.53],[14.14,34.50],[14.25,34.45],[14.30,34.42],[14.40,34.38],[14.46,34.34],[14.56,34.44],[14.66,34.41],[14.72,34.43],[14.82,34.40],[14.93,34.37],[15.03,34.27],[15.14,34.29],[15.24,34.37],[15.35,34.27],[15.45,34.20],[15.56,34.12],[15.66,34.05],[15.71,34.03],[15.77,34.09],[15.87,34.11],[15.98,34.07],[16.08,34.11],[16.19,34.15],[16.29,34.20],[16.39,34.23],[16.50,34.21],[16.66,34.31],[16.81,34.39],[16.92,34.40],[16.97,34.33],[17.02,34.29],[17.13,34.20],[17.23,34.15],[17.34,34.20],[17.44,34.25],[17.55,34.28],[17.65,34.23],[17.76,34.20],[17.86,34.15],[17.97,34.11],[18.02,34.06],[18.07,34.09],[18.18,34.16],[18.28,34.23],[18.39,34.25],[18.49,34.29],[18.54,34.26],[18.60,34.21],[18.70,34.23],[18.81,34.18],[18.91,34.14],[19.02,34.11],[19.12,34.15],[19.23,34.20],[19.33,34.21],[19.44,34.19],[19.59,34.16],[19.70,34.19],
[19.56,34.21],[19.66,34.19],[19.82,34.18],[19.93,34.20],[20.03,34.21],[20.14,34.22],[20.24,34.22],[20.35,34.24],[20.50,34.26],[20.45,34.24],[20.61,34.24],[20.71,34.19],[20.71,34.16],[20.82,34.23],[20.92,34.26],[21.03,34.27],[21.13,34.27],[21.24,34.28],[21.34,34.28],[21.45,34.29],[21.55,34.28],[21.66,34.25],[21.76,34.23],[21.87,34.21],[21.92,34.19],[21.97,34.18],[22.08,34.25],[22.13,34.30],[22.18,34.41],[22.23,34.45],[22.29,34.42],[22.39,34.40],[22.50,34.35],[22.55,34.33],[22.55,34.28],[22.60,34.22],[22.70,34.17],[22.81,34.13],[22.86,34.09],[22.81,34.03],[23.02,34.22],[23.07,34.31],[23.12,34.36],[23.18,34.40],[23.33,34.41],[23.44,34.39],[23.54,34.38],[23.65,34.39],[23.70,34.43],[23.75,34.54],[23.86,34.60],[23.96,34.74],[24.07,34.73],[24.17,34.68],[24.28,34.65],[24.38,34.62],[24.49,34.60],[24.59,34.68],[24.70,34.69],[24.75,34.72],[24.85,34.78],[24.85,34.82],[24.96,34.90],[25.01,34.91],[25.17,34.94],[25.22,34.96],[25.27,35.03],[25.33,35.06],[25.38,35.09],[25.53,34.86],[25.59,34.85],[25.64,34.82],[25.74,34.81],[25.85,34.79],[25.95,34.78],[26.06,34.80],[26.27,34.83],[26.37,35.0],[26.43,34.97],[26.48,35.01],[26.58,34.82],[26.69,34.88],[26.79,34.78],[26.90,34.72],[27.0,34.67],[27.11,34.64],[27.21,34.66],[27.32,34.69],[27.42,34.74],[27.53,34.76],[27.63,34.74],[27.74,34.71],[27.84,34.70],[27.95,34.70],[28.05,34.69],[28.16,34.60],[28.26,34.54],[28.36,34.53],[28.47,34.53],[28.57,34.52],[28.68,34.50],[28.78,34.49],[28.89,34.47],[28.94,34.44],[29.05,34.43],[29.15,34.42],[29.26,34.41],[29.36,34.36],[29.41,34.34],
[29.26,34.42],[29.36,34.40],[29.41,34.35],[29.52,34.33],[29.62,34.31],[29.73,34.30],[29.83,34.27],[29.94,34.26],[30.04,34.25],[30.15,34.28],[30.25,34.29],[30.36,34.27],[30.20,34.22],[30.04,34.21],[29.94,34.20],[30.15,34.20],[30.36,34.19],[30.57,34.21],[30.67,34.20],[30.78,34.19],[30.88,34.18],[30.93,34.16],[31.09,34.16],[31.04,34.20],[31.20,34.21],[31.25,34.27],[31.30,34.29],[31.40,34.31],[31.35,34.35],[31.51,34.27],[31.61,34.21],[31.72,34.20],[31.82,34.25],[31.88,34.29],[31.93,34.31],[32.09,34.30],[32.14,34.33],[32.24,34.37],[32.30,34.41],[32.35,34.47],[32.40,34.51],[32.51,34.53],[32.56,34.57],[32.61,34.60],[32.66,34.70],[32.77,34.72],[32.82,34.77],[32.87,34.67],[32.92,34.62],[32.98,34.59],[33.08,34.57],[33.19,34.55],[33.29,34.52],[33.40,34.56],[33.50,34.59],[33.61,34.61],[33.71,34.75],[33.82,34.72],[33.87,34.76],[33.97,34.68],[34.03,34.62],[34.13,34.59],[34.24,34.60],[34.34,34.62],[34.44,34.59],[34.55,34.57],[34.65,34.50],[34.86,34.53],[35.02,34.57],[35.07,34.61],[35.18,34.65],[35.23,34.70],[35.28,34.75],[35.34,34.78],[35.39,34.84],[35.44,34.89],[35.60,34.88],[35.65,34.83],[35.70,34.79],[35.75,34.71],[35.81,34.65],[35.91,34.61],[36.02,34.58],[36.12,34.57],[36.23,34.56],[36.33,34.62],[36.44,34.60],[36.54,34.58],[36.65,34.56],[36.75,34.53],[36.86,34.58],[36.96,34.61],[37.07,34.57],[37.17,34.57],[37.27,34.44],[37.38,34.35],[37.48,34.31],[37.59,34.29],[37.69,34.36],[37.75,34.42],[37.80,34.44],[37.90,34.39],[38.01,34.38],[38.11,34.38],[38.22,34.31],[38.32,34.26],[38.43,34.20],[38.53,34.18],[38.64,34.14],[38.74,34.09],[38.85,34.15],[38.95,33.84],[38.85,33.69],[39.0,33.65],[38.90,33.61],[38.95,33.45],[39.11,33.94],[39.16,34.26],[34.44,34.37],[34.55,34.35],[34.65,34.31],[34.55,34.29],[34.60,34.25],[34.65,34.20],
[39.06,33.70],[39.01,33.65],[39.06,33.45],[39.17,34.06],[39.17,33.93],[39.22,34.26],[39.33,34.16],[39.38,34.15],[39.48,34.17],[39.59,34.18],[39.69,34.15],[39.38,34.11],[39.48,34.08],[39.59,34.05],[39.80,34.12],[39.90,34.06],[40.01,34.09],[40.11,34.11],[40.22,34.15],[40.32,34.16],[40.16,34.06],[40.32,34.03],[40.48,34.0],[40.53,33.98],[40.63,33.96],[40.74,33.99],[40.90,34.03],[41.0,34.08],[41.05,34.11],[41.21,34.0],[41.32,33.96],[41.42,33.92],[41.47,33.98],[41.58,33.90],[41.74,33.85],[41.84,33.83],[41.95,33.83],[42.05,33.70],[42.16,33.65],[42.31,33.76],[42.47,33.65],[42.57,33.67],[42.52,33.72],[42.68,33.70],[42.78,33.73],[42.89,33.76],[42.94,33.79],[42.99,33.86],[43.10,33.90],[43.15,33.96],[43.10,34.05],[43.20,34.03],[43.31,34.0],[43.41,33.96],[43.52,33.97],[43.62,33.91],[43.73,33.91],[43.83,33.96],[43.99,33.96],[44.09,33.95],[44.20,33.97],[44.30,34.0],[44.41,34.05],[44.51,34.09],[44.62,34.15],[44.67,34.19],[44.72,34.24],[44.83,34.29],[44.93,34.32],[45.04,34.36],[45.14,34.38],[45.25,34.39],[45.35,34.43],[45.46,34.48],[45.56,34.50],[45.67,34.50],[45.77,34.51],[45.88,34.52],[45.98,34.52],[46.19,34.54],[46.30,34.52],[46.51,34.55],[46.72,34.57],[46.92,34.58],[47.03,34.55],[47.13,34.56],[47.34,34.57],[47.55,34.57],[47.76,34.58],[47.97,34.57],[48.18,34.59],[48.29,34.63],[48.39,34.70],[48.44,34.74],[48.50,34.78],[48.60,34.63],[48.71,34.62],[48.81,34.61],[48.92,34.59],
[48.34,34.79],[48.45,34.76],[48.50,34.74],[48.29,34.69],[48.55,34.66],[48.24,34.59],[48.03,34.57],[47.92,34.56],[47.82,34.55],[47.71,34.58],[48.13,34.56],[48.66,34.62],[48.76,34.61],[48.87,34.59],[48.97,34.58],[49.13,34.58],[49.23,34.57],[49.34,34.55],[49.44,34.54],[49.49,34.52],[49.60,34.55],[49.70,34.57],[49.76,34.61],[49.86,34.64],[49.91,34.67],[50.02,34.68],[50.12,34.64],[50.23,34.62],[50.28,34.59],[50.38,34.67],[50.54,34.67],[50.70,34.68],[50.80,34.68],[51.64,34.48],[51.75,34.47],[51.90,34.44],[52.01,34.43],[52.11,34.41],[52.22,34.38],[52.32,34.36],[52.43,34.32],[52.53,34.29],[52.38,34.26],[52.64,34.37],[52.74,34.38],[52.85,34.36],[52.95,34.34],[53.06,34.31],[53.16,34.28],[53.27,34.23],[53.37,34.19],[53.48,34.16],[53.58,34.13],[53.69,34.11],[53.79,34.10],[53.90,34.08],[54.0,34.09],[54.11,34.11],[54.32,34.10],[54.53,34.06],[54.63,34.04],[54.84,34.03],[54.94,34.06],[55.05,34.05],[55.15,34.03],[55.26,34.02],[55.36,34.0],[55.47,34.03],[55.57,34.05],[55.68,34.06],[55.78,34.05],[55.99,34.06],[56.20,34.08],[56.41,34.09],[56.62,34.08],[56.83,34.09],[56.52,34.02],[56.73,34.03],[56.94,34.05]
];

const RED = "#ff0000";
const RED_LINE = "#c41e26";
const GREEN = "#14ee14";
const GREEN_LINE = "#35d035";
const BLACK = "#000000";
const AXIS = "#2a2a2a";

function splitSegments(pts: Pt[], gap: number): Pt[][] {
  const out: Pt[][] = [];
  let cur: Pt[] = [];
  pts.forEach((p, i) => {
    if (i > 0 && p[0] - pts[i - 1][0] > gap) {
      out.push(cur);
      cur = [];
    }
    cur.push(p);
  });
  if (cur.length) out.push(cur);
  return out;
}

export default function App() {
  const W = 1912;
  const H = 1136;
  const left = 86.6, right = 1898.6, top = 7.3, bottom = 1073;
  const x = d3.scaleLinear().domain([0, monthCount]).range([left, right]);
  const y = d3.scaleLinear().domain([33.256, 35.628]).range([bottom, top]);
  const line = d3.line<Pt>().x((d) => x(d[0])).y((d) => y(d[1]));
  const rx = 5.0;
  const ry = 4.5;
  const font = "'Liberation Sans', Arial, Helvetica, sans-serif";

  const xMajor = d3.range(0, monthCount + 1);
  const xMinor = d3.range(0, monthCount).map((i) => i + 0.5);
  const isMajorY = (v: number) => Math.abs(v * 2 - Math.round(v * 2)) < 1e-6;

  const legendRows = [
    { yy: 50, color: BLACK, lineColor: BLACK, name: legendBuoy, nameLen: 181, stats: null as string | null, statsLen: 0 },
    { yy: 92, color: "#e41414", lineColor: RED, name: legendSmapName, nameLen: 139, stats: legendSmapStats, statsLen: 512 },
    { yy: 135, color: "#1ed21e", lineColor: GREEN, name: legendAncName, nameLen: 77, stats: legendAncStats, statsLen: 506 },
  ];

  return (
    <svg width={W} height={H} viewBox={`0 0 ${W} ${H}`} style={{ position: "absolute", left: 0, top: 0, background: "#fff" }}>
      <defs>
        <clipPath id="plotClip">
          <rect x={left} y={top} width={right - left} height={bottom - top} />
        </clipPath>
      </defs>
      <rect x={0} y={0} width={W} height={H} fill="#fff" />
      <g clipPath="url(#plotClip)">
        {buoyDots.map((d, i) => (
          <ellipse key={`b${i}`} cx={x(d[0])} cy={y(d[1])} rx={rx} ry={ry} fill={BLACK} />
        ))}
        {splitSegments(buoyLine, 1).map((seg, i) => (
          <path key={`bl${i}`} d={line(seg) || ""} fill="none" stroke={BLACK} strokeWidth={1.2} />
        ))}
        {smapDots.map((d, i) => (
          <ellipse key={`s${i}`} cx={x(d[0])} cy={y(d[1])} rx={rx} ry={ry} fill={RED} />
        ))}
        <path d={line(smapLine) || ""} fill="none" stroke={RED_LINE} strokeWidth={1.3} />
        {ancDots.map((d, i) => (
          <ellipse key={`a${i}`} cx={x(d[0])} cy={y(d[1])} rx={rx} ry={ry} fill={GREEN} />
        ))}
        <path d={line(ancLine) || ""} fill="none" stroke={GREEN_LINE} strokeWidth={1.2} />
      </g>

      {/* frame */}
      <rect x={left} y={top} width={right - left} height={bottom - top} fill="none" stroke={AXIS} strokeWidth={1.6} />

      {/* x ticks (bottom & top, inward) */}
      {xMajor.map((m) => (
        <g key={`xm${m}`}>
          <line x1={x(m)} x2={x(m)} y1={bottom} y2={bottom - 22} stroke={AXIS} strokeWidth={1.3} />
          <line x1={x(m)} x2={x(m)} y1={top} y2={top + 22} stroke={AXIS} strokeWidth={1.3} />
        </g>
      ))}
      {xMinor.map((m) => (
        <g key={`xn${m}`}>
          <line x1={x(m)} x2={x(m)} y1={bottom} y2={bottom - 11} stroke={AXIS} strokeWidth={1.3} />
          <line x1={x(m)} x2={x(m)} y1={top} y2={top + 11} stroke={AXIS} strokeWidth={1.3} />
        </g>
      ))}
      {/* y ticks (left & right, inward) */}
      {yMinorTicks.map((v) => {
        const len = isMajorY(v) ? 36 : 18;
        return (
          <g key={`y${v}`}>
            <line x1={left} x2={left + len} y1={y(v)} y2={y(v)} stroke={AXIS} strokeWidth={1.3} />
            <line x1={right} x2={right - len} y1={y(v)} y2={y(v)} stroke={AXIS} strokeWidth={1.3} />
          </g>
        );
      })}

      {/* month labels */}
      {monthLabels.map((lab, i) => (
        <text
          key={`ml${i}`}
          transform={`translate(${x(i)},${1100}) scale(0.62,1)`}
          textAnchor="middle"
          fontFamily={font}
          fontSize={20}
          fill="#111"
        >
          {lab}
        </text>
      ))}
      {/* y labels */}
      {yMajorTicks.map((v) => (
        <text
          key={`yl${v}`}
          x={40.5}
          y={y(v) + 6.5}
          textLength={40}
          lengthAdjust="spacingAndGlyphs"
          fontFamily={font}
          fontSize={18}
          fill="#111"
        >
          {d3.format(".1f")(v)}
        </text>
      ))}
      <text
        transform={`translate(${26},${546}) rotate(-90)`}
        textAnchor="middle"
        fontFamily={font}
        fontSize={15}
        fill="#111"
      >
        {yTitle}
      </text>
      <text
        x={810}
        y={1120}
        textLength={366}
        lengthAdjust="spacingAndGlyphs"
        fontFamily={font}
        fontSize={19}
        fill="#111"
      >
        {xTitle}
      </text>

      {/* legend */}
      <rect x={left} y={top} width={923 - left} height={178 - top} fill="none" stroke={AXIS} strokeWidth={1.4} />
      {legendRows.map((row, i) => (
        <g key={`lg${i}`}>
          <line x1={97} x2={161} y1={row.yy} y2={row.yy} stroke={row.lineColor} strokeWidth={1.4} />
          <circle cx={129} cy={row.yy} r={4.3} fill={row.lineColor} />
          <text
            x={171}
            y={row.yy + 6.5}
            textLength={row.nameLen}
            lengthAdjust="spacingAndGlyphs"
            fontFamily={font}
            fontSize={17}
            fill={row.color}
            style={{ whiteSpace: "pre" }}
          >
            {row.name}
          </text>
          {row.stats && (
            <text
              x={368}
              y={row.yy + 6.5}
              textLength={row.statsLen}
              lengthAdjust="spacingAndGlyphs"
              fontFamily={font}
              fontSize={17}
              fill={row.color}
              style={{ whiteSpace: "pre" }}
            >
              {row.stats}
            </text>
          )}
        </g>
      ))}
    </svg>
  );
}
